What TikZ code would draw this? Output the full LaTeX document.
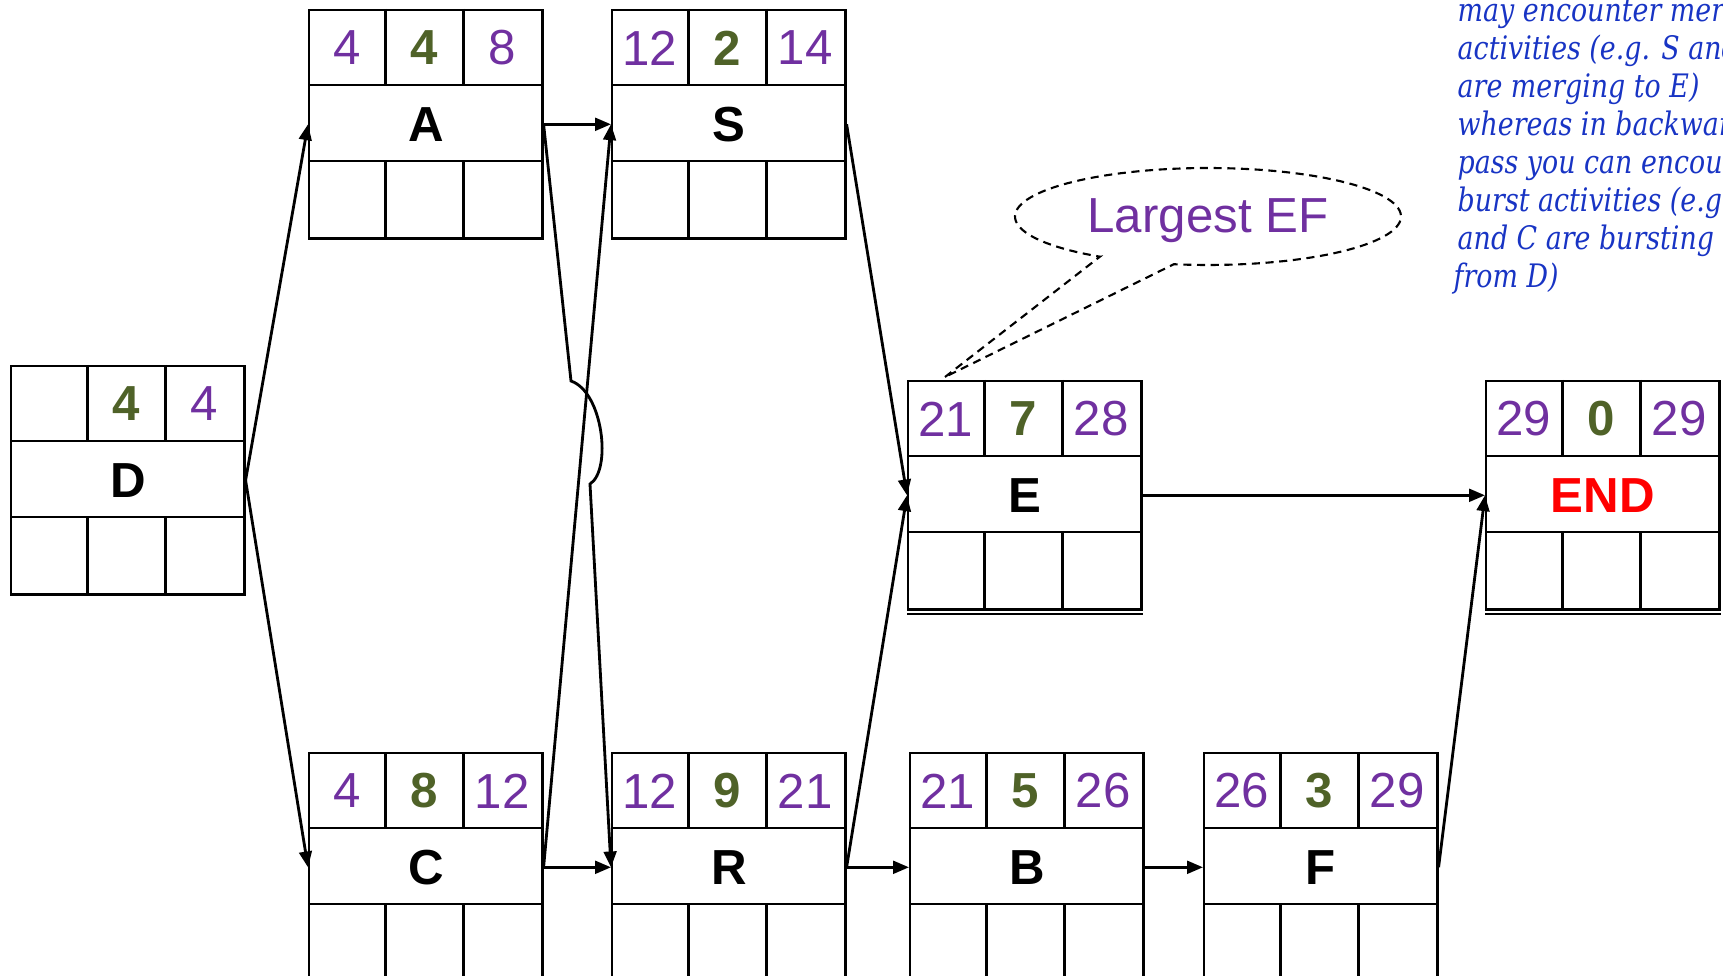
\documentclass[tikz,border=0pt]{standalone}
\usepackage{fontspec}
\setmainfont{Liberation Sans}
\newfontfamily\notefont[FakeStretch=0.83]{DejaVu Serif}
\usetikzlibrary{arrows.meta,calc}
\definecolor{esef}{HTML}{7030A0}
\definecolor{dur}{HTML}{4F6228}
\definecolor{note}{RGB}{24,52,196}

\tikzset{
  cellgrid/.style={line width=0.7pt},
  actframe/.style={draw, line width=0.7pt, rectangle, minimum width=2.33cm,
    minimum height=2.28cm, inner sep=0pt, anchor=north west},
  numtxt/.style={font=\fontsize{14}{14}\selectfont, text=esef, inner sep=0pt},
  durtxt/.style={font=\fontsize{14}{14}\selectfont\bfseries, text=dur, inner sep=0pt},
  nametxt/.style={font=\fontsize{14}{14}\selectfont\bfseries, inner sep=0pt},
  link/.style={line width=0.8pt, -{Triangle[length=4.5pt,width=3.6pt]}},
  callout/.style={line width=0.6pt, dash pattern=on 2.3pt off 1.6pt},
  notetxt/.style={font=\notefont\itshape\fontsize{9.2}{10}\selectfont, text=note,
    anchor=base west, inner sep=0pt},
}

% activity box: name, left, top, ES, duration, EF, label, label colour
\newcommand\actbox[8]{%
  \node[actframe] (#1) at (#2,#3) {};
  \draw[cellgrid]
    ($(#1.north west)+(0,76)$) -- ($(#1.north east)+(0,76)$)
    ($(#1.north west)+(0,152)$) -- ($(#1.north east)+(0,152)$)
    ($(#1.north west)+(77.67,0)$) -- ($(#1.north west)+(77.67,76)$)
    ($(#1.north west)+(155.33,0)$) -- ($(#1.north west)+(155.33,76)$)
    ($(#1.north west)+(77.67,152)$) -- ($(#1.north west)+(77.67,228)$)
    ($(#1.north west)+(155.33,152)$) -- ($(#1.north west)+(155.33,228)$);
  \node[numtxt] (#1-es) at ($(#1.north west)+(38.8,39)$) {#4};
  \node[durtxt] (#1-dur) at ($(#1.north west)+(116.5,39)$) {#5};
  \node[numtxt] (#1-ef) at ($(#1.north west)+(194.2,39)$) {#6};
  \node[nametxt, text=#8] (#1-name) at (#1.center) {#7};
}

\begin{document}
\begin{tikzpicture}[x=0.01cm, y=-0.01cm]
  \useasboundingbox (0,0) rectangle (1723,976);
  \clip (0,0) rectangle (1723,976);

  % activity-on-node boxes
  \actbox{D}{10}{365}{}{4}{4}{D}{black}
  \actbox{A}{308}{9}{4}{4}{8}{A}{black}
  \actbox{S}{611}{9}{12}{2}{14}{S}{black}
  \actbox{C}{308}{752}{4}{8}{12}{C}{black}
  \actbox{R}{611}{752}{12}{9}{21}{R}{black}
  \actbox{B}{909}{752}{21}{5}{26}{B}{black}
  \actbox{F}{1203}{752}{26}{3}{29}{F}{black}
  \actbox{E}{907}{380}{21}{7}{28}{E}{black}
  \actbox{END}{1485}{380}{29}{0}{29}{END}{red}

  % double rule under E and END
  \draw[cellgrid] ($(E.south west)+(0,3.5)$) -- ($(E.south east)+(0,3.5)$);
  \draw[cellgrid] ($(END.south west)+(0,3.5)$) -- ($(END.south east)+(0,3.5)$);

  % precedence links
  \coordinate (hopin) at (571,381);
  \coordinate (hopout) at (590,484);
  \draw[link] (D.east) -- (A.west);
  \draw[link] (D.east) -- (C.west);
  \draw[link] (A.east) -- (S.west);
  \draw[link] (C.east) -- (R.west);
  \draw[link] (C.east) -- (S.west);
  \draw[link] (A.east) -- (hopin) .. controls (603,392) and (612,470) .. (hopout) -- (R.west);
  \draw[link] (S.east) -- (E.west);
  \draw[link] (R.east) -- (E.west);
  \draw[link] (R.east) -- (B.west);
  \draw[link] (B.east) -- (F.west);
  \draw[link] (E.east) -- (END.west);
  \draw[link] (F.east) -- (END.west);

  % speech bubble pointing at E
  \coordinate (tip) at (945,377);
  \draw[callout] (tip) -- (1100,256.6)
    -- plot[domain=124.2:460.2, samples=120, variable=\t]
       ({1208+193*cos(\t)},{216.5+48.5*sin(\t)}) -- cycle;
  \node[font=\fontsize{14}{14}\selectfont, text=esef] (bubble) at (1208,221) {Largest EF};

  % side note
  \node[notetxt] (note1) at (1457,22) {may encounter merge};
  \node[notetxt] (note2) at (1457,60) {activities (e.g. S and R};
  \node[notetxt] (note3) at (1457,98) {are merging to E)};
  \node[notetxt] (note4) at (1457,136) {whereas in backward};
  \node[notetxt] (note5) at (1457,174) {pass you can encounter};
  \node[notetxt] (note6) at (1457,212) {burst activities (e.g. A};
  \node[notetxt] (note7) at (1457,250) {and C are bursting};
  \node[notetxt] (note8) at (1453,288) {from D)};
\end{tikzpicture}
\end{document}
